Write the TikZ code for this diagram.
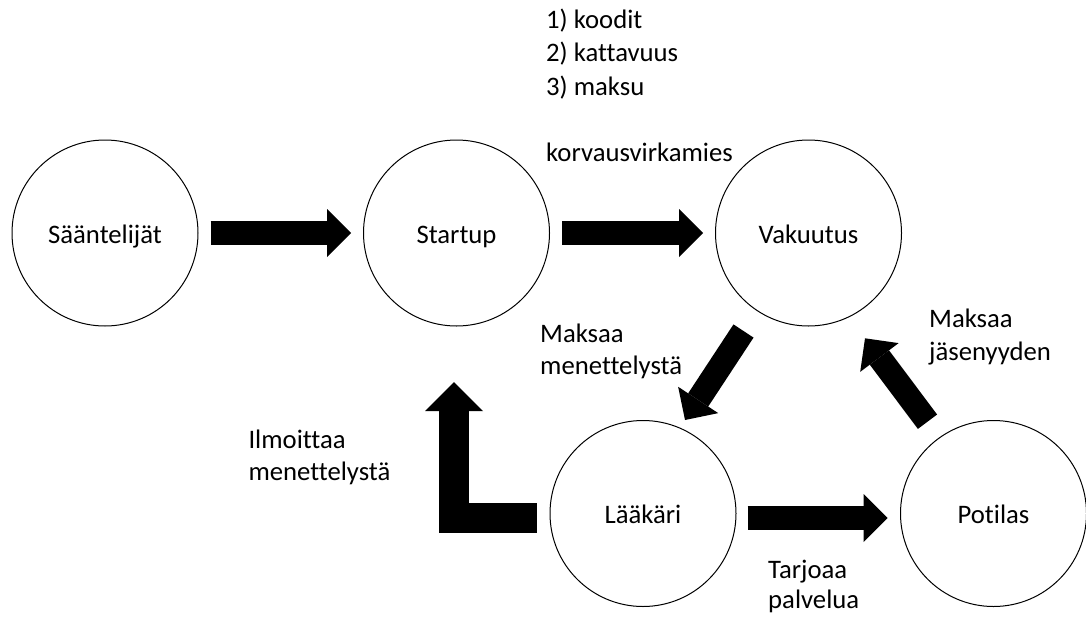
\documentclass[tikz,border=0pt]{standalone}
\usepackage{fontspec}
\setmainfont{Carlito}[Ligatures=NoCommon]
\usetikzlibrary{arrows.meta,calc}

\tikzset{
  party/.style={circle, draw=black, line width=1pt, minimum size=186pt, inner sep=0pt,
    text height=20pt, text depth=0pt},
  flow/.style={line width=24pt, line join=miter,
    -{Triangle[length=24pt, width=48pt, line width=0pt]}},
  bigflow/.style={line width=30pt, line join=miter,
    -{Triangle[length=29pt, width=58pt, line width=0pt]}},
  note/.style={anchor=base west, inner sep=0pt, align=left},
}

\begin{document}
\begin{tikzpicture}[x=1pt, y=-1pt, font=\fontsize{26.7}{31.7}\selectfont]
  \fill[white] (0,0) rectangle (1086,616);
  \useasboundingbox (0,0) rectangle (1086,616);

  % parties
  \node[party] (saa) at (105,233)     {Sääntelijät};
  \node[party] (sta) at (456.5,233)   {Startup};
  \node[party] (vak) at (808.5,233)   {Vakuutus};
  \node[party] (laa) at (643,513.5)   {Lääkäri};
  \node[party] (pot) at (993.5,513.5) {Potilas};

  % flows between the parties
  \draw[flow, shorten <=12pt, shorten >=12pt] (saa) -- (sta);
  \draw[flow, shorten <=12pt, shorten >=12pt] (sta) -- (vak);
  \draw[flow] ($(laa.east)+(11,4.5)$) -- ($(pot.west)+(-12.5,4.5)$);
  \draw[flow] ($(vak)+(-65,98)$) -- ($(laa)+(42,-93.5)$);
  \draw[flow] ($(pot)+(-66,-91.8)$) -- ($(vak)+(56.5,105.3)$);
  \draw[bigflow] ($(laa.west)+(-13,4)$) -| ($(sta.south)+(-2.5,55.7)$);

  % labels (anchored at the baseline of their last line)
  \node[note, font=\fontsize{26.7}{33.3}\selectfont] (steps) at (546,95)
    {1) koodit\\2) kattavuus\\3) maksu};
  \node[note] (korv) at (546,161.7) {korvausvirkamies};
  \node[note] (mmen) at (540,374.3) {Maksaa\\menettelystä};
  \node[note] (imen) at (248.3,480) {Ilmoittaa\\menettelystä};
  \node[note, font=\fontsize{26.7}{33}\selectfont] (mjas) at (929,360) {Maksaa\\jäsenyyden};
  \node[note, font=\fontsize{26.7}{29.5}\selectfont] (tpal) at (768,608) {Tarjoaa\\palvelua};
\end{tikzpicture}
\end{document}
